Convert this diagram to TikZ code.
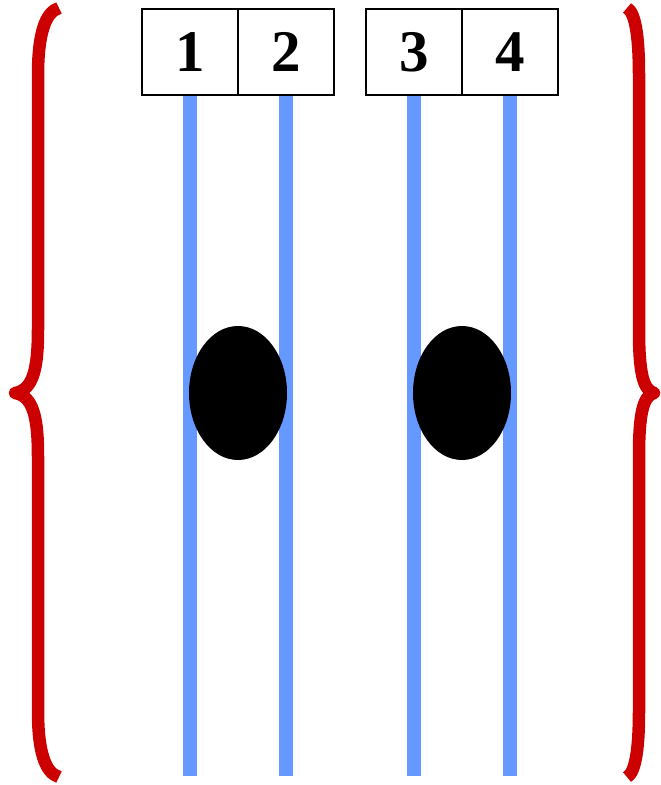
\documentclass[tikz,border=0pt]{standalone}
\usepackage{fontspec}
\setmainfont{Liberation Serif}
\usetikzlibrary{shapes.geometric}
\definecolor{bracered}{HTML}{CC0000}
\definecolor{lineblue}{HTML}{6699FF}
\begin{document}
\begin{tikzpicture}[x=1pt,y=-1pt,
  numbox/.style={draw=black,line width=1.2pt,minimum width=96pt,minimum height=86pt,inner sep=0pt,font=\fontsize{59}{59}\selectfont\bfseries},
  wire/.style={draw=lineblue,line width=14pt},
  blob/.style={ellipse,fill=black,minimum width=98pt,minimum height=134pt,inner sep=0pt},
  brace/.style={draw=bracered,line width=12.5pt,line join=round}]
\useasboundingbox (0,0) rectangle (661,785);
\coordinate (e1) at (190,776);
\coordinate (e2) at (286,776);
\coordinate (e3) at (414,776);
\coordinate (e4) at (510,776);
\node[numbox] (b1) at (190,52) {1};
\node[numbox] (b2) at (286,52) {2};
\node[numbox] (b3) at (414,52) {3};
\node[numbox] (b4) at (510,52) {4};
\foreach \i in {1,2,3,4}{\draw[wire] (b\i.south) -- (e\i);}
\node[blob] (d1) at (238,393) {};
\node[blob] (d2) at (462,393) {};
\draw[brace] (59,8) .. controls (45,12) and (38,35) .. (38,75) -- (38,330)
  .. controls (38,372) and (32,390) .. (15,393)
  .. controls (32,396) and (38,414) .. (38,456) -- (38,711)
  .. controls (38,751) and (45,773) .. (59,777);
\draw[brace] (627,8) .. controls (635,12) and (639,35) .. (639,75) -- (639,330)
  .. controls (639,372) and (643,390) .. (654,393)
  .. controls (643,396) and (639,414) .. (639,456) -- (639,711)
  .. controls (639,751) and (635,773) .. (627,777);
\end{tikzpicture}
\end{document}
